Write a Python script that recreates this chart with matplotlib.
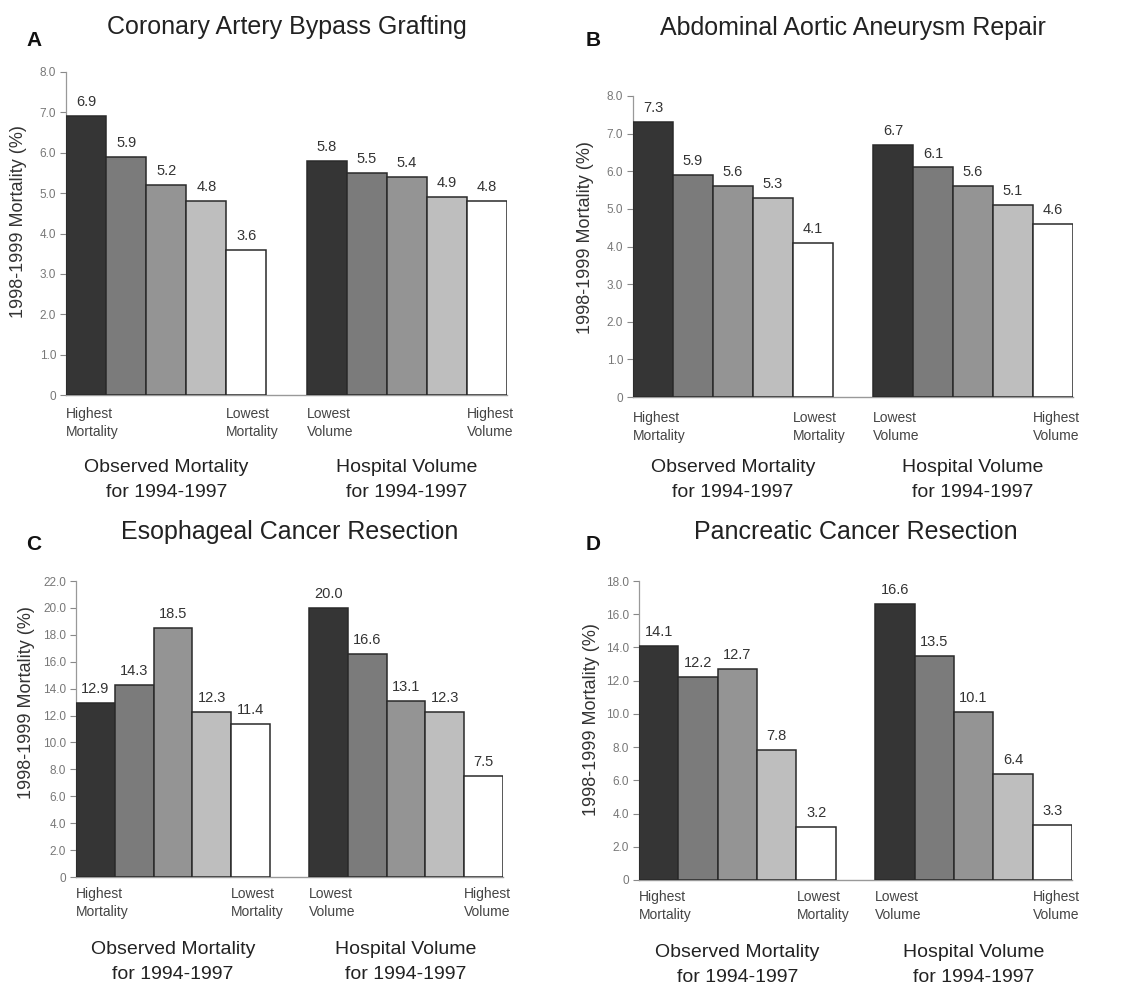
import numpy as np
import matplotlib
matplotlib.use("Agg")
from matplotlib import pyplot
from matplotlib import transforms

pyplot.rcParams['font.family'] = ['Liberation Sans', 'DejaVu Sans']

W, H = 1131, 989

# data
titles = ["Coronary Artery Bypass Grafting", "Abdominal Aortic Aneurysm Repair",
          "Esophageal Cancer Resection", "Pancreatic Cancer Resection"]
letters = ["A", "B", "C", "D"]
mortality_groups = [[6.9, 5.9, 5.2, 4.8, 3.6],
                    [7.3, 5.9, 5.6, 5.3, 4.1],
                    [12.9, 14.3, 18.5, 12.3, 11.4],
                    [14.1, 12.2, 12.7, 7.8, 3.2]]
volume_groups = [[5.8, 5.5, 5.4, 4.9, 4.8],
                 [6.7, 6.1, 5.6, 5.1, 4.6],
                 [20.0, 16.6, 13.1, 12.3, 7.5],
                 [16.6, 13.5, 10.1, 6.4, 3.3]]
y_max = [8, 8, 22, 18]
y_step = [1, 1, 2, 2]
cat_labels = ["Highest\nMortality", "Lowest\nMortality", "Lowest\nVolume", "Highest\nVolume"]
group_labels = ["Observed Mortality\nfor 1994-1997", "Hospital Volume\nfor 1994-1997"]
ylabel = "1998-1999 Mortality (%)"

bar_colors = ["#353535", "#7b7b7b", "#949494", "#bebebe", "#ffffff"]

# layout in pixels: left, top, right, bottom of each axes
boxes = [(66, 72, 507, 395), (633, 96, 1073, 397),
         (76, 581, 503, 877), (639, 581, 1072, 880)]
title_y = [27, 28, 532, 532]
letter_xy = [(34, 41), (593, 40), (34, 544), (593, 544)]
ylabel_xy = [(19, 222), (585, 238), (27, 703), (592, 720)]
cat_y = [423, 427, 903, 906]
group_y = [480, 480, 962, 965]

fig = pyplot.figure(figsize=(W / 100, H / 100), dpi=100)

def fx(px):
    return px / W

def fy(py):
    return 1 - py / H

for i in range(4):
    l, t, r, b = boxes[i]
    ax = fig.add_axes([fx(l), fy(b), fx(r - l), (b - t) / H])
    vals = mortality_groups[i] + volume_groups[i]
    xs = list(range(5)) + list(range(6, 11))
    cols = bar_colors + bar_colors
    ax.bar(xs, vals, width=1.0, color=cols, edgecolor="#2a2a2a", linewidth=1.1, zorder=3)
    for x, v in zip(xs, vals):
        ax.annotate("%.1f" % v, (x, v), xytext=(0, 5), textcoords="offset points",
                    ha="center", va="bottom", fontsize=10.5, color="#333333")
    ax.set_xlim(-0.5, 10.5)
    ax.set_ylim(0, y_max[i])
    ticks = np.arange(0, y_max[i] + 0.01, y_step[i])
    ax.set_yticks(ticks)
    ax.set_yticklabels(["0"] + ["%.1f" % tk for tk in ticks[1:]])
    ax.set_xticks([])
    ax.tick_params(axis="y", length=4, width=0.8, color="#888888", labelsize=8.5,
                   labelcolor="#777777", pad=3)
    for s in ["top", "right"]:
        ax.spines[s].set_visible(False)
    ax.spines["left"].set_color("#999999")
    ax.spines["bottom"].set_color("#999999")
    ax.spines["left"].set_linewidth(0.9)
    ax.spines["bottom"].set_linewidth(1.0)

    trans = transforms.blended_transform_factory(ax.transData, fig.transFigure)
    # category end labels, left aligned at bar edges
    for x, lab in zip([-0.5, 3.5, 5.5, 9.5], cat_labels):
        ax.text(x, fy(cat_y[i]), lab, transform=trans, ha="left", va="center",
                fontsize=10, color="#444444", linespacing=1.45)
    for x, lab in zip([2, 8], group_labels):
        ax.text(x, fy(group_y[i]), lab, transform=trans, ha="center", va="center",
                fontsize=14, color="#222222", linespacing=1.6)

    fig.text(fx((l + r) / 2), fy(title_y[i]), titles[i], ha="center", va="center",
             fontsize=18, color="#222222")
    fig.text(fx(letter_xy[i][0]), fy(letter_xy[i][1]), letters[i], ha="center", va="center",
             fontsize=15, fontweight="bold", color="#111111")
    fig.text(fx(ylabel_xy[i][0]), fy(ylabel_xy[i][1]), ylabel, ha="center", va="center",
             rotation=90, fontsize=13, color="#333333")

pyplot.savefig("out.png", dpi=100)
